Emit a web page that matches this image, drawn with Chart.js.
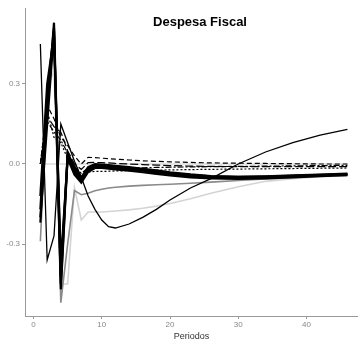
<!DOCTYPE html>
<html>
<head>
<meta charset="utf-8">
<script src="https://cdn.jsdelivr.net/npm/chart.js@4"></script>
<style>
  html, body { margin: 0; padding: 0; background: #fff; }
  #wrap { width: 358px; height: 342px; }
</style>
</head>
<body>
<div id="wrap"><canvas id="irf" width="358" height="342"></canvas></div>
<script>
// ---- data ----
const periods = [1, 2, 3, 4, 5, 6, 7, 8, 9, 10, 11, 12, 14, 16, 18, 20, 23, 26, 30, 34, 38, 42, 46];

const black1 = [-0.20, 0.15, 0.50, -0.45, 0.035, -0.02, -0.06, -0.02, -0.005, -0.005, -0.008, -0.01, -0.015, -0.02, -0.027, -0.034, -0.041, -0.046, -0.048, -0.046, -0.043, -0.040, -0.036];
const black2 = [-0.22, 0.20, 0.53, -0.42, 0.04, -0.01, -0.05, -0.012, 0.0, -0.002, -0.004, -0.007, -0.012, -0.018, -0.024, -0.031, -0.039, -0.045, -0.048, -0.047, -0.044, -0.041, -0.038];
const black3 = [-0.12, 0.30, 0.48, -0.37, 0.02, -0.04, -0.07, -0.03, -0.015, -0.015, -0.017, -0.02, -0.025, -0.031, -0.037, -0.043, -0.05, -0.054, -0.056, -0.054, -0.05, -0.046, -0.042];
const black4 = [-0.17, 0.25, 0.51, -0.47, 0.03, -0.03, -0.065, -0.025, -0.01, -0.01, -0.012, -0.015, -0.02, -0.025, -0.032, -0.038, -0.045, -0.05, -0.052, -0.05, -0.047, -0.043, -0.039];
const curveB = [0.45, -0.36, -0.27, 0.15, 0.08, 0.01, -0.05, -0.12, -0.17, -0.21, -0.235, -0.24, -0.225, -0.20, -0.17, -0.135, -0.09, -0.055, 0.0, 0.045, 0.08, 0.108, 0.13];
const dashed1 = [0, 0.22, 0.17, 0.10, 0.07, 0.03, 0.0, 0.025, 0.024, 0.022, 0.02, 0.018, 0.015, 0.012, 0.01, 0.008, 0.006, 0.004, 0.003, 0.002, 0.001, 0.0, 0.0];
const dashed2 = [0, 0.18, 0.14, 0.12, 0.05, 0.0, -0.02, 0.005, 0.006, 0.005, 0.004, 0.002, 0.0, -0.002, -0.004, -0.006, -0.008, -0.009, -0.01, -0.01, -0.01, -0.01, -0.01];
const dotted = [0, 0.20, 0.10, 0.08, 0.02, -0.03, -0.05, -0.03, -0.028, -0.028, -0.027, -0.026, -0.025, -0.024, -0.023, -0.022, -0.021, -0.02, -0.019, -0.018, -0.017, -0.016, -0.015];
const dotDash = [0, 0.16, 0.12, 0.09, 0.04, -0.01, -0.035, -0.015, -0.015, -0.016, -0.016, -0.016, -0.015, -0.014, -0.013, -0.012, -0.011, -0.01, -0.009, -0.008, -0.007, -0.006, -0.005];
const greyLine = [-0.29, 0.25, 0.45, -0.52, -0.30, -0.10, -0.115, -0.11, -0.10, -0.095, -0.09, -0.087, -0.083, -0.08, -0.078, -0.076, -0.072, -0.068, -0.062, -0.056, -0.05, -0.046, -0.042];
const lightGrey = [-0.10, 0.28, 0.35, -0.45, -0.45, -0.09, -0.21, -0.18, -0.18, -0.18, -0.178, -0.176, -0.172, -0.166, -0.158, -0.148, -0.13, -0.11, -0.085, -0.065, -0.055, -0.048, -0.044];
const zeroPeriods = [1, 46];
const zeroValues = [0, 0];

const xTicks = [0, 10, 20, 30, 40];
const yTicks = [-0.3, 0.0, 0.3];

const toXY = (xs, ys) => xs.map((x, i) => ({ x: x, y: ys[i] }));

function line(values, color, width, dash, xs) {
    return {
        data: toXY(xs || periods, values),
        borderColor: color,
        borderWidth: width,
        borderDash: dash || [],
        pointRadius: 0,
        tension: 0,
        fill: false
    };
}

// first dataset ends up on top
const datasets = [
    line(black1, '#000', 2.2),
    line(black2, '#000', 2.2),
    line(black3, '#000', 2.2),
    line(black4, '#000', 2.2),
    line(curveB, '#000', 1.3),
    line(dashed1, '#000', 1.2, [5, 3]),
    line(dashed2, '#000', 1.2, [8, 3]),
    line(dotted, '#000', 1.2, [2, 2]),
    line(dotDash, '#000', 1.2, [6, 2, 2, 2]),
    line(greyLine, '#8a8a8a', 1.6),
    line(lightGrey, '#d4d4d4', 1.6),
    line(zeroValues, '#c8c8c8', 1, [], zeroPeriods)
];

// title sits inside the panel, centred on the full ggplot panel
const panelTitle = {
    id: 'panelTitle',
    afterDraw(chart) {
        const c = chart.ctx;
        c.save();
        c.font = 'bold 13px "Liberation Sans", Arial, sans-serif';
        c.fillStyle = '#000';
        c.textAlign = 'center';
        c.textBaseline = 'middle';
        c.fillText('Despesa Fiscal', 200, 22);
        c.restore();
    }
};

new Chart(document.getElementById('irf').getContext('2d'), {
    type: 'line',
    data: { datasets: datasets },
    plugins: [panelTitle],
    options: {
        responsive: false,
        devicePixelRatio: 1,
        animation: false,
        layout: { padding: { top: 8, right: 0, left: 0, bottom: 0 } },
        plugins: { legend: { display: false }, tooltip: { enabled: false }, title: { display: false } },
        scales: {
            x: {
                type: 'linear',
                min: -1.25,
                max: 47.55,
                afterBuildTicks: s => { s.ticks = xTicks.map(v => ({ value: v })); },
                afterFit: s => { s.height = 26; },
                ticks: { color: '#888', font: { family: 'Liberation Sans', size: 8 }, padding: 1, maxRotation: 0 },
                grid: { drawOnChartArea: false, tickLength: 3, color: '#999' },
                border: { color: '#999', width: 1 },
                title: { display: true, text: 'Periodos', color: '#333', font: { family: 'Liberation Sans', size: 9 }, padding: { top: 1, bottom: 0 } }
            },
            y: {
                min: -0.57,
                max: 0.585,
                afterBuildTicks: s => { s.ticks = yTicks.map(v => ({ value: v })); },
                afterFit: s => { s.width = 25; },
                ticks: { color: '#888', font: { family: 'Liberation Sans', size: 8 }, padding: 2, callback: v => v.toFixed(1) },
                grid: { drawOnChartArea: false, tickLength: 3, color: '#999' },
                border: { color: '#999', width: 1 }
            }
        }
    }
});
</script>
</body>
</html>
